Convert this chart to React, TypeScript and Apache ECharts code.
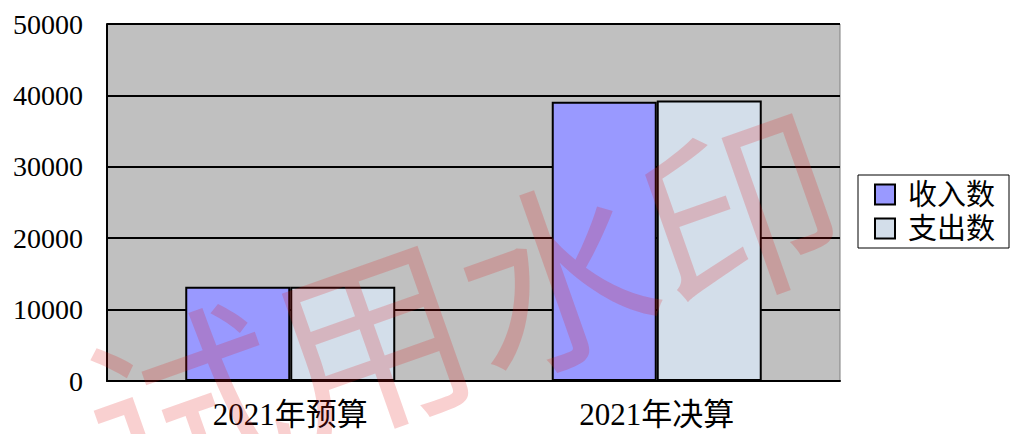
import React, { useEffect, useRef } from "react";
import * as echarts from "echarts";

const categories = ["2021年预算", "2021年决算"];
const incomeValues = [13200, 39100];
const expenseValues = [13200, 39300];
const seriesNames = ["收入数", "支出数"];
const yTicks = { min: 0, max: 50000, interval: 10000 };
const watermarkText = "试用水印";

const serif = "'Liberation Serif', 'Noto Sans CJK SC', serif";

export default function App() {
  const ref = useRef<HTMLDivElement>(null);
  useEffect(() => {
    if (!ref.current) return;
    const chart = echarts.init(ref.current, undefined, { renderer: "svg" });
    chart.setOption({
      animation: false,
      backgroundColor: "#ffffff",
      grid: {
        left: 107,
        right: 171,
        top: 24,
        bottom: 53,
        show: true,
        backgroundColor: "#c0c0c0",
        borderColor: "#808080",
        borderWidth: 1,
      },
      legend: {
        left: 858,
        top: 175,
        orient: "vertical",
        data: seriesNames,
        borderColor: "#000000",
        borderWidth: 1,
        padding: [5, 14, 5, 16],
        itemGap: 5,
        itemWidth: 20,
        itemHeight: 20,
        icon: "rect",
        textStyle: {
          fontFamily: serif,
          fontSize: 29,
          color: "#000000",
          padding: [0, 0, 0, 8],
        },
      },
      xAxis: {
        type: "category",
        data: categories,
        axisLine: { lineStyle: { color: "#000000", width: 2 } },
        axisTick: { inside: true, length: 11, lineStyle: { color: "#000000", width: 2 } },
        axisLabel: { fontFamily: serif, fontSize: 31, color: "#000000", margin: 18 },
        splitLine: { show: false },
      },
      yAxis: {
        type: "value",
        min: yTicks.min,
        max: yTicks.max,
        interval: yTicks.interval,
        axisLine: { show: true, lineStyle: { color: "#000000", width: 2 } },
        axisTick: { show: true, inside: true, length: 11, lineStyle: { color: "#000000", width: 2 } },
        axisLabel: {
          fontFamily: serif,
          fontSize: 28,
          color: "#000000",
          margin: 24,
          formatter: (v: number) => String(v),
        },
        splitLine: { show: true, lineStyle: { color: "#000000", width: 2 } },
      },
      series: [
        {
          name: seriesNames[0],
          type: "bar",
          data: incomeValues,
          barGap: "0%",
          barCategoryGap: "42.7%",
          itemStyle: { color: "#9999ff", borderColor: "#000000", borderWidth: 2 },
        },
        {
          name: seriesNames[1],
          type: "bar",
          data: expenseValues,
          barGap: "0%",
          barCategoryGap: "42.7%",
          itemStyle: { color: "#d3deea", borderColor: "#000000", borderWidth: 2 },
        },
      ],
      graphic: [
        {
          type: "text",
          x: 460,
          y: 300,
          rotation: 0.34,
          z: 100,
          silent: true,
          style: {
            text: watermarkText,
            fontFamily: "'Noto Sans CJK SC', sans-serif",
            fontSize: 196,
            fill: "rgba(225, 20, 20, 0.2)",
            align: "center",
            verticalAlign: "middle",
          },
        },
      ],
    });
    return () => chart.dispose();
  }, []);
  return (
    <div
      ref={ref}
      style={{ width: 1011, height: 434, position: "absolute", left: 0, top: 0 }}
    />
  );
}
